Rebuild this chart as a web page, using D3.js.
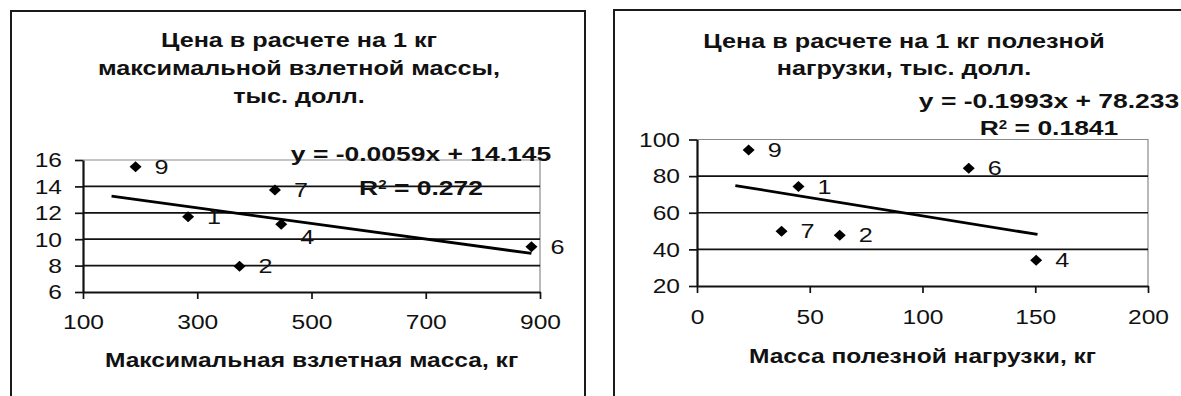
<!DOCTYPE html>
<html>
<head>
<meta charset="utf-8">
<script src="https://cdn.jsdelivr.net/npm/d3@7"></script>
<style>
  html, body { margin: 0; padding: 0; background: #fff; }
  svg { display: block; }
</style>
</head>
<body>
<svg id="chart" width="1181" height="396"></svg>
<script>
// ---- Price per kg of maximum take-off mass ----
const mtowIds = ["1", "2", "4", "6", "7", "9"];
const mtowKg = [284, 374, 447, 885, 436, 192];
const mtowPrice = [11.7, 7.95, 11.14, 9.42, 13.72, 15.49];
const mtowTicksX = [100, 300, 500, 700, 900];
const mtowTicksY = [6, 8, 10, 12, 14, 16];
const mtowSlope = -0.0059;
const mtowIntercept = 14.145;
const mtowR2 = "0.272";
const mtowTrendSpan = [150, 885];
const mtowTitle = ["Цена в расчете на 1 кг", "максимальной взлетной массы,", "тыс. долл."];
const mtowAxisTitle = "Максимальная взлетная масса, кг";

// ---- Price per kg of payload ----
const payloadIds = ["1", "2", "4", "6", "7", "9"];
const payloadKg = [45, 63.3, 150.4, 120.5, 37.5, 22.9];
const payloadPrice = [74.3, 47.7, 34.1, 84.3, 49.9, 94.3];
const payloadTicksX = [0, 50, 100, 150, 200];
const payloadTicksY = [20, 40, 60, 80, 100];
const payloadSlope = -0.1993;
const payloadIntercept = 78.233;
const payloadR2 = "0.1841";
const payloadTrendSpan = [17, 151];
const payloadTitle = ["Цена в расчете на  1 кг полезной", "нагрузки, тыс. долл."];
const payloadAxisTitle = "Масса полезной нагрузки, кг";

const FONT = "'Liberation Sans', Arial, Helvetica, sans-serif";
const SX = 1.26; // horizontal text stretch

const svg = d3.select("#chart");

function label(g, x, y, str, size, weight, anchor) {
  return g.append("text")
    .attr("transform", `translate(${x},${y}) scale(${SX},1)`)
    .attr("text-anchor", anchor || "middle")
    .attr("dy", "0.35em")
    .style("font-family", FONT)
    .style("font-size", size + "px")
    .style("font-weight", weight || "normal")
    .style("fill", "#111")
    .text(str);
}

function fmt(v) { return String(v); }

function drawPanel(cfg) {
  const g = svg.append("g");

  // outer chart frame
  g.append("rect")
    .attr("x", cfg.frame[0]).attr("y", cfg.frame[1])
    .attr("width", cfg.frame[2]).attr("height", cfg.frame[3])
    .attr("fill", "#fff").attr("stroke", "#1a1a1a").attr("stroke-width", 2);

  const x = d3.scaleLinear().domain(cfg.xDomain).range(cfg.xRange);
  const y = d3.scaleLinear().domain(cfg.yDomain).range(cfg.yRange);

  // title lines
  cfg.title.forEach((t, i) => label(g, cfg.titleX, cfg.titleY[i], t, 20, "bold"));

  // plot-area border (top and right, grey)
  g.append("path")
    .attr("d", `M${x(cfg.xDomain[0])},${y(cfg.yDomain[1])}H${x(cfg.xDomain[1])}V${y(cfg.yDomain[0])}`)
    .attr("fill", "none").attr("stroke", "#8a8a8a").attr("stroke-width", 1.2);

  // horizontal gridlines
  g.append("g").selectAll("line")
    .data(cfg.ticksY.filter(v => v !== cfg.yDomain[0] && v !== cfg.yDomain[1]))
    .join("line")
    .attr("x1", x(cfg.xDomain[0])).attr("x2", x(cfg.xDomain[1]))
    .attr("y1", d => y(d)).attr("y2", d => y(d))
    .attr("stroke", "#111").attr("stroke-width", 1.7);

  // y axis
  const ya = g.append("g")
    .attr("transform", `translate(${x(cfg.xDomain[0])},0)`)
    .call(d3.axisLeft(y).tickValues(cfg.ticksY).tickSize(8).tickSizeOuter(0).tickFormat(fmt));
  ya.select(".domain").attr("stroke", "#111").attr("stroke-width", 2.2);
  ya.selectAll(".tick line").attr("stroke", "#111").attr("stroke-width", 1.7);
  ya.selectAll(".tick text")
    .attr("x", null).attr("dy", "0.35em")
    .attr("transform", `translate(${-cfg.yLabelGap},0) scale(${SX},1)`)
    .attr("text-anchor", "end")
    .style("font-family", FONT).style("font-size", "19.5px").style("fill", "#111");

  // x axis
  const xa = g.append("g")
    .attr("transform", `translate(0,${y(cfg.yDomain[0])})`)
    .call(d3.axisBottom(x).tickValues(cfg.ticksX).tickSize(7).tickSizeOuter(0).tickFormat(fmt));
  xa.select(".domain").attr("stroke", "#111").attr("stroke-width", 2.2);
  xa.selectAll(".tick line").attr("stroke", "#111").attr("stroke-width", 1.7);
  xa.selectAll(".tick text")
    .attr("y", null).attr("dy", "0.35em")
    .attr("transform", `translate(0,${cfg.xLabelGap}) scale(${SX},1)`)
    .attr("text-anchor", "middle")
    .style("font-family", FONT).style("font-size", "19.5px").style("fill", "#111");

  // axis title
  label(g, (cfg.xRange[0] + cfg.xRange[1]) / 2, cfg.axisTitleY, cfg.axisTitle, 19.5, "bold");

  // linear trendline
  const trend = d3.line().x(d => x(d)).y(d => y(cfg.slope * d + cfg.intercept));
  g.append("path")
    .attr("d", trend(cfg.trendSpan))
    .attr("fill", "none").attr("stroke", "#000").attr("stroke-width", 2.8);

  // markers
  const pts = cfg.ids.map((id, i) => ({ id, xv: cfg.xs[i], yv: cfg.ys[i] }));
  g.append("g").selectAll("path")
    .data(pts).join("path")
    .attr("transform", d => `translate(${x(d.xv)},${y(d.yv)})`)
    .attr("d", "M0,-5.5L6,0L0,5.5L-6,0Z")
    .attr("fill", "#000");

  // point numbers
  pts.forEach(d => {
    const n = cfg.nudge[d.id] || [0, 0];
    label(g, x(d.xv) + 26 + n[0], y(d.yv) + n[1], d.id, 20, "normal");
  });

  // equation and R² label
  const eq = `y = ${cfg.slope}x + ${cfg.intercept}`;
  label(g, cfg.eqX, cfg.eqY[0], eq, 21, "bold");
  const r = label(g, cfg.eqX, cfg.eqY[1], "", 21, "bold");
  r.append("tspan").text("R");
  r.append("tspan").attr("baseline-shift", "super").style("font-size", "12px").text("2");
  r.append("tspan").text(" = " + cfg.r2);
}

drawPanel({
  frame: [11, 11, 574, 400],
  xDomain: [100, 900], xRange: [83, 540],
  yDomain: [6, 16], yRange: [292, 160],
  ticksX: mtowTicksX, ticksY: mtowTicksY,
  ids: mtowIds, xs: mtowKg, ys: mtowPrice,
  slope: mtowSlope, intercept: mtowIntercept, r2: mtowR2, trendSpan: mtowTrendSpan,
  title: mtowTitle, titleX: 299, titleY: [40, 68, 96],
  axisTitle: mtowAxisTitle, axisTitleY: 360,
  yLabelGap: 21, xLabelGap: 30,
  eqX: 421, eqY: [154, 188],
  nudge: { "4": [0, 13] }
});

drawPanel({
  frame: [614, 10, 620, 400],
  xDomain: [0, 200], xRange: [697, 1148],
  yDomain: [20, 100], yRange: [286, 139.5],
  ticksX: payloadTicksX, ticksY: payloadTicksY,
  ids: payloadIds, xs: payloadKg, ys: payloadPrice,
  slope: payloadSlope, intercept: payloadIntercept, r2: payloadR2, trendSpan: payloadTrendSpan,
  title: payloadTitle, titleX: 904, titleY: [41, 68],
  axisTitle: payloadAxisTitle, axisTitleY: 356,
  yLabelGap: 17, xLabelGap: 31,
  eqX: 1049, eqY: [101, 128],
  nudge: {}
});
</script>
</body>
</html>
